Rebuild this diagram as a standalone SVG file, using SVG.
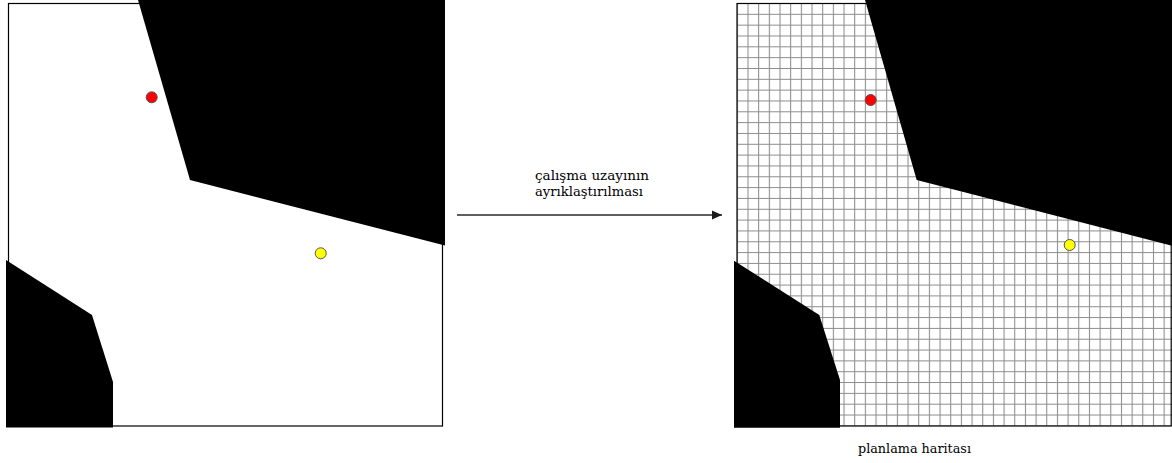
<svg xmlns="http://www.w3.org/2000/svg" width="1172" height="463" viewBox="0 0 1172 463">
  <style>
    .frame { fill: #ffffff; stroke: #000000; stroke-width: 1.2; }
    .obstacle { fill: #000000; }
    .start { fill: #ff0000; stroke: #555555; stroke-width: 1; }
    .goal { fill: #ffff00; stroke: #555555; stroke-width: 1; }
    .label { font-family: "DejaVu Serif", "Liberation Serif", serif; font-size: 13px; fill: #000000; }
    .conn { stroke: #2a2a2a; stroke-width: 1.5; fill: none; }
  </style>
  <defs>
    <pattern id="grid" patternUnits="userSpaceOnUse" x="736.8" y="3" width="10.67" height="10.83">
      <path d="M0.5 0 V10.83 M0 0.5 H10.67" stroke="#8c8c8c" stroke-width="1.1" fill="none"/>
    </pattern>
    <marker id="arrow" markerWidth="10" markerHeight="10" refX="10" refY="5" orient="auto" markerUnits="userSpaceOnUse">
      <path d="M0 0.5 L10 5 L0 9.5 Z" fill="#1a1a1a"/>
    </marker>
  </defs>

  <rect width="1172" height="463" fill="#ffffff"/>

  <g id="workspace">
    <rect class="frame" x="8.5" y="3.5" width="434" height="422.5"/>
    <polygon id="ws-obstacle-top" class="obstacle" points="138,0 190,180 445,245.5 445,0"/>
    <polygon id="ws-obstacle-bottom" class="obstacle" points="6,260 92,315 113,382 113,427.5 6,427.5"/>
    <circle id="ws-start" class="start" cx="151.7" cy="97.3" r="5.5"/>
    <circle id="ws-goal" class="goal" cx="320.7" cy="253.3" r="5.5"/>
  </g>

  <g id="planning-map">
    <rect x="737" y="3.5" width="434.7" height="422.5" fill="url(#grid)"/>
    <rect x="737" y="3.5" width="434.2" height="422.5" fill="none" stroke="#000000" stroke-width="1.2"/>
    <polygon id="map-obstacle-top" class="obstacle" points="865,0 916.7,180 1172,245.7 1172,0"/>
    <polygon id="map-obstacle-bottom" class="obstacle" points="734,260.7 819.3,315 840,380 840,427.7 734,427.7"/>
    <circle id="map-start" class="start" cx="870.7" cy="100" r="5.5"/>
    <circle id="map-goal" class="goal" cx="1069.7" cy="245" r="5.5"/>
  </g>

  <g id="connectors">
    <line class="conn" x1="457" y1="215" x2="722" y2="215" marker-end="url(#arrow)"/>
  </g>

  <g id="labels">
    <text class="label" x="535" y="180" textLength="114" lengthAdjust="spacingAndGlyphs">çalışma uzayının</text>
    <text class="label" x="535" y="196" textLength="108" lengthAdjust="spacingAndGlyphs">ayrıklaştırılması</text>
    <text class="label" x="858" y="453" textLength="113" lengthAdjust="spacingAndGlyphs">planlama haritası</text>
  </g>
</svg>
